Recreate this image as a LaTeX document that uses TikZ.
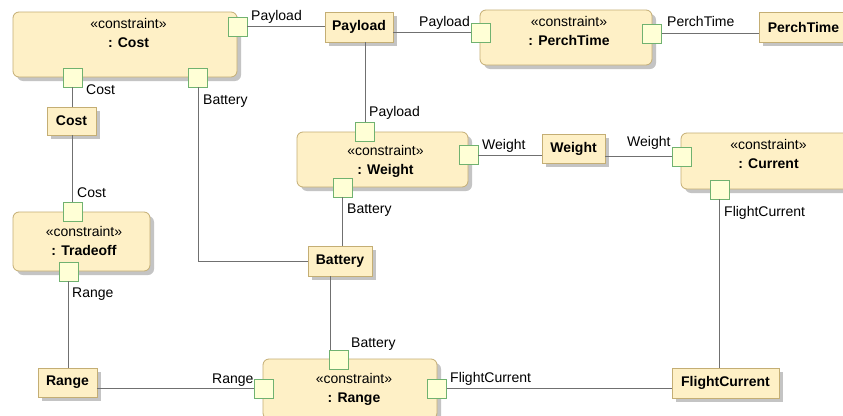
\documentclass[tikz,border=0pt]{standalone}
\usepackage{fontspec}
\setmainfont{Liberation Sans}
\usetikzlibrary{shadows}
\definecolor{boxfill}{RGB}{254,240,198}
\definecolor{boxline}{RGB}{196,174,116}
\definecolor{portfill}{RGB}{255,255,214}
\definecolor{portline}{RGB}{112,178,112}
\definecolor{wirecol}{RGB}{112,112,112}
\definecolor{shade}{RGB}{196,196,196}
\begin{document}
\begin{tikzpicture}[x=1pt,y=-1pt,
  font=\fontsize{14}{17}\selectfont,
  every node/.style={inner sep=0pt},
  block/.style={draw=boxline, fill=boxfill, line width=0.8pt,
    font=\fontsize{14}{17}\selectfont\bfseries,
    drop shadow={shadow xshift=4pt, shadow yshift=-4pt, fill=shade, opacity=1}},
  cbox/.style={block, rounded corners=6pt},
  port/.style={draw=portline, fill=portfill, line width=0.9pt, minimum size=19pt},
  ctext/.style={align=center, font=\fontsize{14}{19}\selectfont},
  lbl/.style={anchor=base west},
  wire/.style={draw=wirecol, line width=0.8pt}]

% canvas
\path[use as bounding box] (0,0) rectangle (843,415);
\clip (0,0) rectangle (843,415);
\fill[white] (0,0) rectangle (843,415);

% constraint properties
\node[cbox, minimum width=224pt, minimum height=65pt] (kCost) at (125,44.5) {};
\node[ctext] (kCostT) at (128.5,32.5) {«constraint»\\\textbf{: Cost}};
\node[cbox, minimum width=172pt, minimum height=55pt] (kPerch) at (566,37.5) {};
\node[ctext] (kPerchT) at (569,31) {«constraint»\\\textbf{: PerchTime}};
\node[cbox, minimum width=171pt, minimum height=55pt] (kWeight) at (382.5,159.5) {};
\node[ctext] (kWeightT) at (385.5,161) {«constraint»\\\textbf{: Weight}};
\node[cbox, minimum width=174pt, minimum height=56pt] (kCurrent) at (768,161) {};
\node[ctext] (kCurrentT) at (768.5,154) {«constraint»\\\textbf{: Current}};
\node[cbox, minimum width=137pt, minimum height=59pt] (kTrade) at (81.5,241.5) {};
\node[ctext] (kTradeT) at (84,241) {«constraint»\\\textbf{: Tradeoff}};
\node[cbox, minimum width=174pt, minimum height=60pt] (kRange) at (350,389) {};
\node[ctext] (kRangeT) at (354,389) {«constraint»\\\textbf{: Range}};

% value blocks
\node[block, minimum width=49pt, minimum height=28pt] (bCost) at (71.5,121) {Cost};
\node[block, minimum width=68pt, minimum height=30pt] (bPayload) at (359,27) {Payload};
\node[block, minimum width=89pt, minimum height=30pt] (bPerch) at (803.5,27) {PerchTime};
\node[block, minimum width=63pt, minimum height=29pt] (bWeight) at (573.5,148.5) {Weight};
\node[block, minimum width=64pt, minimum height=30pt] (bBattery) at (340,261) {Battery};
\node[block, minimum width=59pt, minimum height=29pt] (bRange) at (67.5,382.5) {Range};
\node[block, minimum width=107pt, minimum height=30pt] (bFlight) at (725.5,383) {FlightCurrent};

% ports
\node[port] (pCostPay) at (237.5,26.5) {};
\node[port] (pCostCost) at (72.5,77.5) {};
\node[port] (pCostBat) at (198,77.5) {};
\node[port] (pPerchPay) at (480.5,32.5) {};
\node[port] (pPerchTime) at (652,33.5) {};
\node[port] (pWPay) at (365,132) {};
\node[port] (pWWeight) at (468.5,155) {};
\node[port] (pWBat) at (342.5,187.5) {};
\node[port] (pCWeight) at (681.5,156.5) {};
\node[port] (pCFlight) at (719.5,189.5) {};
\node[port] (pTCost) at (72.5,212) {};
\node[port] (pTRange) at (68.5,271.5) {};
\node[port] (pRRange) at (264,388.5) {};
\node[port] (pRBat) at (339,359.5) {};
\node[port] (pRFlight) at (437,388.5) {};

% binding connectors
\draw[wire] (pCostPay.east) -- (pCostPay.east -| bPayload.west);
\draw[wire] (bPayload.east |- pPerchPay) -- (pPerchPay.west);
\draw[wire] (pPerchTime.east) -- (pPerchTime.east -| bPerch.west);
\draw[wire] (pWPay.north) -- (pWPay.north |- bPayload.south);
\draw[wire] (pCostCost.south) -- (pCostCost.south |- bCost.north);
\draw[wire] (bCost.south -| pTCost) -- (pTCost.north);
\draw[wire] (pCostBat.south) |- (bBattery.west);
\draw[wire] (pWBat.south) -- (pWBat.south |- bBattery.north);
\coordinate (batDrop) at ([xshift=-9pt]pRBat.north);
\draw[wire] (batDrop |- bBattery.south) -- (batDrop);
\draw[wire] (pWWeight.east) -- (pWWeight.east -| bWeight.west);
\draw[wire] (bWeight.east |- pCWeight) -- (pCWeight.west);
\draw[wire] (pCFlight.south) -- (pCFlight.south |- bFlight.north);
\draw[wire] (pTRange.south) -- (pTRange.south |- bRange.north);
\draw[wire] (bRange.east |- pRRange) -- (pRRange.west);
\draw[wire] (pRFlight.east) -- (pRFlight.east -| bFlight.west);

% port names
\node[lbl] (lCostPay) at (251,20) {Payload};
\node[lbl] (lPerchPay) at (419,26) {Payload};
\node[lbl] (lPerchTime) at (667,27) {PerchTime};
\node[lbl] (lCostCost) at (86,94) {Cost};
\node[lbl] (lCostBat) at (203,104) {Battery};
\node[lbl] (lWPay) at (369,116) {Payload};
\node[lbl] (lWWeight) at (482,149) {Weight};
\node[lbl] (lWBat) at (347,213) {Battery};
\node[lbl] (lCWeight) at (627,146) {Weight};
\node[lbl] (lCFlight) at (724,216) {FlightCurrent};
\node[lbl] (lTCost) at (77,197) {Cost};
\node[lbl] (lTRange) at (72,297) {Range};
\node[lbl] (lRRange) at (212,383) {Range};
\node[lbl] (lRBat) at (351,347) {Battery};
\node[lbl] (lRFlight) at (450,382) {FlightCurrent};
\end{tikzpicture}
\end{document}
